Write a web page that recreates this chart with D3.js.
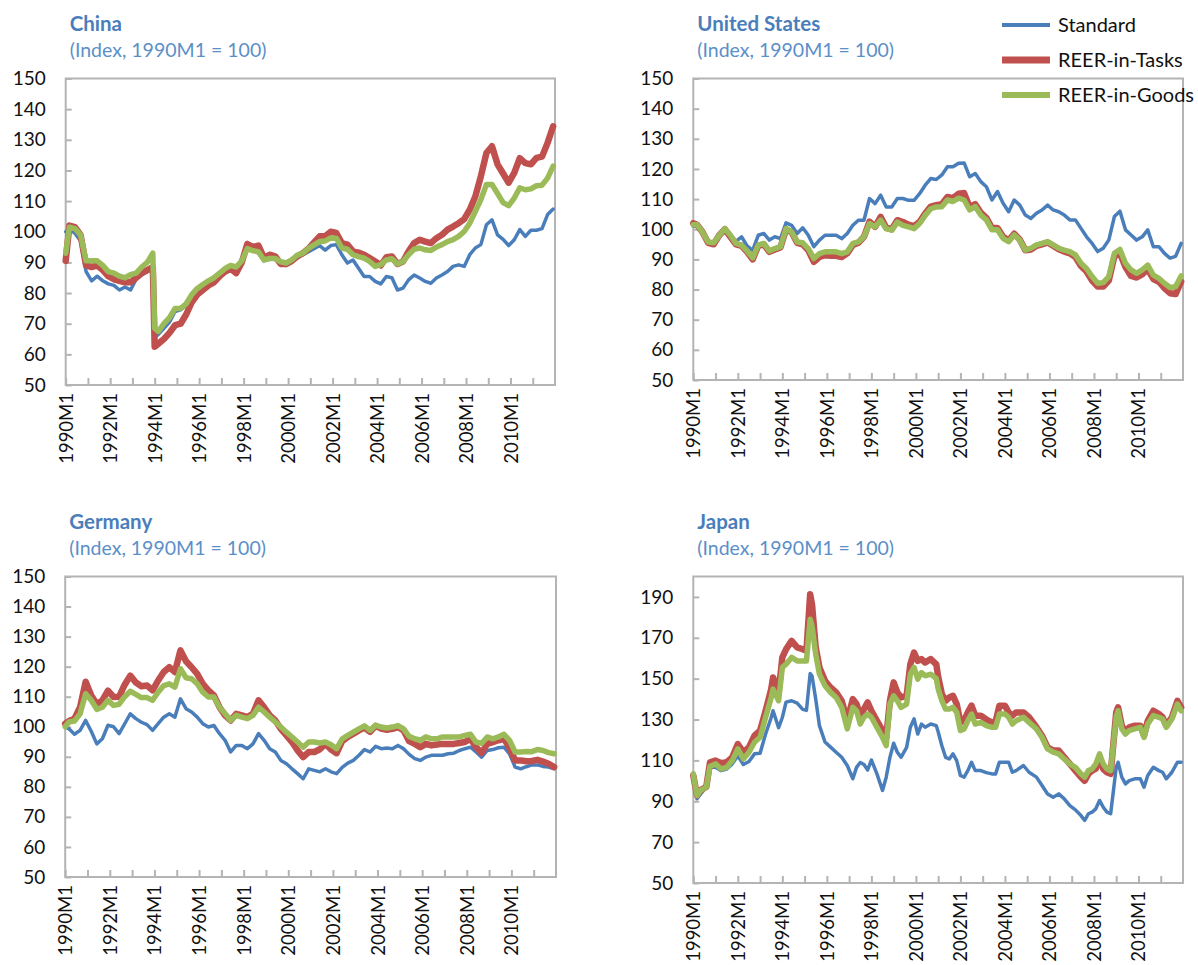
<!DOCTYPE html>
<html>
<head>
<meta charset="utf-8">
<script src="https://cdn.jsdelivr.net/npm/d3@7"></script>
<style>
  body { margin: 0; background: #fff; }
  svg text { font-family: Lato, "Open Sans", "Noto Sans", sans-serif; }
</style>
</head>
<body>
<svg id="chart" width="1198" height="965"></svg>
<script>
// ---- data ----
const tickYears = [1990, 1991, 1992, 1993, 1994, 1995, 1996, 1997, 1998, 1999, 2000,
  2001, 2002, 2003, 2004, 2005, 2006, 2007, 2008, 2009, 2010, 2011];
const indexTicks = [50, 60, 70, 80, 90, 100, 110, 120, 130, 140, 150];
const japanTicks = [50, 70, 90, 110, 130, 150, 170, 190];
const seriesNames = ["Standard", "REER-in-Tasks", "REER-in-Goods"];

const quarterDates = ["1990M1", "1990M3", "1990M6", "1990M9", "1990M12",
  "1991M3", "1991M6", "1991M9", "1991M12", "1992M3", "1992M6", "1992M9", "1992M12",
  "1993M3", "1993M6", "1993M9", "1993M12", "1994M3", "1994M6", "1994M9", "1994M12",
  "1995M3", "1995M6", "1995M9", "1995M12", "1996M3", "1996M6", "1996M9", "1996M12",
  "1997M3", "1997M6", "1997M9", "1997M12", "1998M3", "1998M6", "1998M9", "1998M12",
  "1999M3", "1999M6", "1999M9", "1999M12", "2000M3", "2000M6", "2000M9", "2000M12",
  "2001M3", "2001M6", "2001M9", "2001M12", "2002M3", "2002M6", "2002M9", "2002M12",
  "2003M3", "2003M6", "2003M9", "2003M12", "2004M3", "2004M6", "2004M9", "2004M12",
  "2005M3", "2005M6", "2005M9", "2005M12", "2006M3", "2006M6", "2006M9", "2006M12",
  "2007M3", "2007M6", "2007M9", "2007M12", "2008M3", "2008M6", "2008M9", "2008M12",
  "2009M3", "2009M6", "2009M9", "2009M12", "2010M3", "2010M6", "2010M9", "2010M12",
  "2011M3", "2011M6", "2011M9", "2011M12"];

const chinaDates = ["1990M1", "1990M3", "1990M6", "1990M9", "1990M12",
  "1991M3", "1991M6", "1991M9", "1991M12", "1992M3", "1992M6", "1992M9", "1992M12",
  "1993M3", "1993M6", "1993M9", "1993M12", "1994M1", "1994M3", "1994M6", "1994M9", "1994M12",
  "1995M3", "1995M6", "1995M9", "1995M12", "1996M3", "1996M6", "1996M9", "1996M12",
  "1997M3", "1997M6", "1997M9", "1997M12", "1998M3", "1998M6", "1998M9", "1998M12",
  "1999M3", "1999M6", "1999M9", "1999M12", "2000M3", "2000M6", "2000M9", "2000M12",
  "2001M3", "2001M6", "2001M9", "2001M12", "2002M3", "2002M6", "2002M9", "2002M12",
  "2003M3", "2003M6", "2003M9", "2003M12", "2004M3", "2004M6", "2004M9", "2004M12",
  "2005M3", "2005M6", "2005M9", "2005M12", "2006M3", "2006M6", "2006M9", "2006M12",
  "2007M3", "2007M6", "2007M9", "2007M12", "2008M3", "2008M6", "2008M9", "2008M12",
  "2009M3", "2009M6", "2009M9", "2009M12", "2010M3", "2010M6", "2010M9", "2010M12",
  "2011M3", "2011M6", "2011M9", "2011M12"];

const chinaStandard = [100, 101, 99.5, 97, 87,
  84, 85.5, 84, 83, 82.5, 81, 82, 81,
  84.5, 86, 87, 88, 65.5, 66.5, 68.5, 70.5, 74,
  74.5, 76, 79, 81, 82, 83.5, 84.5, 86,
  87.5, 89, 88, 90, 96.5, 94, 93, 90.5,
  91, 91, 89.5, 89, 90, 91.5, 92.5, 93.5,
  94.5, 95.5, 94, 95.5, 95.8, 92.5, 89.8, 90.8,
  88.1, 85.4, 85.4, 83.8, 83, 85.4, 85, 81,
  81.6, 84.3, 85.9, 84.9, 83.8, 83.2, 84.9, 85.9,
  87, 88.7, 89.2, 88.7, 92.5, 94.7, 95.8, 102.3,
  103.9, 99, 97.5, 95.5, 97.4, 100.7, 98.5, 100.5,
  100.5, 101, 105.6, 107.4];
const chinaTasks = [90.5, 102, 101.5, 99, 89,
  88.5, 89, 87.5, 85.5, 84.5, 84, 83.5, 83.5,
  85, 86.5, 87.5, 88.5, 62.5, 63.5, 65, 67, 69.5,
  70, 73, 77, 79.5, 81, 82.5, 83.5, 85.5,
  87, 88, 86.5, 90, 96, 95, 95.5, 91.5,
  92.5, 92, 89.5, 89.5, 90.5, 92, 93, 94.5,
  96.5, 98.5, 98.5, 100, 99.6, 96.3, 95.8, 93.6,
  93.2, 92.5, 91.4, 90.3, 89, 91.7, 91.9, 89.5,
  90.3, 93.6, 96.3, 97.4, 96.8, 96.3, 97.9, 99,
  100.7, 101.7, 102.8, 104.1, 107.2, 111.5, 118.1, 125.7,
  127.9, 122, 119, 116, 119.2, 124, 122.4, 122,
  124.1, 124.5, 129, 134.4];
const chinaGoods = [93, 101.5, 101, 99, 90.5,
  90.5, 90.5, 89, 87, 86.5, 85.5, 85, 86,
  86.5, 88.5, 90, 93, 68.5, 67.5, 70, 72, 75,
  75, 76.5, 79.5, 81.5, 82.8, 84, 85, 86.5,
  88, 89, 88.5, 90.5, 94.5, 93.8, 93.5, 90.8,
  91.3, 91.3, 90.2, 89.8, 90.8, 92.4, 93, 94.6,
  95.7, 96.8, 97, 98, 97.9, 94.7, 94.3, 92.5,
  91.9, 91.4, 90.3, 88.7, 89.3, 90.8, 91.2, 89.5,
  90.3, 92.5, 94.3, 94.7, 94.1, 93.9, 95, 95.8,
  96.8, 97.4, 98.5, 100.1, 102.8, 106.6, 110.5, 115.4,
  115.4, 112.5, 109.5, 108.5, 111, 114.3, 113.7, 114,
  115, 115.2, 117.5, 121.4];

const usStandard = [101, 101, 99, 96, 95.5,
  98, 100.2, 98, 96, 97.5, 94.5, 93, 98,
  98.6, 96.4, 97.5, 96.9, 102.1, 101.3, 98.6, 100.5,
  98, 94.2, 96.4, 98, 98, 98, 96.9, 98.6,
  101.3, 103, 103, 110.2, 108.5, 111.3, 107.4, 107.4,
  110.2, 110.2, 109.6, 109.6, 111.8, 114.6, 116.8, 116.5,
  118, 120.7, 120.7, 121.9, 122, 117.4, 118.5, 115.8,
  114.1, 109.7, 112.5, 108.6, 105.8, 109.7, 108, 104.7,
  103.6, 105.3, 106.4, 108, 106.4, 105.8, 104.7, 103.1,
  103.1, 100.3, 97.5, 95.3, 92.6, 93.7, 96.4, 104.2,
  106, 99.8, 98.1, 96.4, 97.5, 99.8, 94.2, 94.2,
  92, 90.4, 91, 95.3];
const usTasks = [102, 101.5, 99, 95.5, 95,
  98, 100, 97.5, 95, 94.5, 92.5, 90, 94.5,
  95, 92.5, 93.3, 94, 100, 99, 95.5, 95,
  93, 89.2, 90.8, 91.4, 91.2, 91.2, 90.8, 92,
  94.8, 95.5, 97.5, 102.5, 100.8, 104.1, 100.5, 100,
  103, 102.4, 101.5, 101, 102.5, 105.2, 107.5, 108,
  108.3, 110.7, 110.3, 111.8, 112, 107.3, 108.3, 105.5,
  103.8, 100.4, 100.4, 97.5, 96.3, 98.5, 96.6, 93,
  93.3, 94.5, 95, 95.6, 94.5, 93.4, 92.6, 92,
  90.8, 87.8, 86, 83, 81, 81, 83, 91,
  92, 87.5, 84.5, 84, 85, 86.8, 83.5, 82.6,
  80.5, 78.8, 78.5, 82.6];
const usGoods = [101.5, 101.5, 99, 95.8, 95.5,
  98, 100.2, 98, 95.3, 94.7, 92.8, 90.5, 94.7,
  95.3, 92.8, 93.6, 94.2, 100.2, 99.1, 95.8, 95.5,
  93.6, 90.3, 91.9, 92.5, 92.5, 92.5, 91.9, 92.5,
  95.3, 95.8, 97.5, 101.9, 100.8, 103, 100.2, 99.7,
  102.4, 101.3, 100.8, 100.2, 101.9, 104.6, 106.8, 107.4,
  107.5, 109.7, 109.2, 110.3, 109.7, 106.4, 107.5, 104.7,
  103.1, 99.8, 99.8, 97, 95.9, 98.1, 96.4, 93.1,
  93.7, 94.8, 95.3, 95.9, 94.8, 93.7, 93.1, 92.6,
  91.5, 88.7, 87, 84.3, 82.1, 82.3, 84.3, 92,
  93.3, 88.7, 86.5, 85.4, 86.5, 88.1, 84.8, 83.7,
  82.1, 80.7, 80.9, 84.5];

const germanyStandard = [100, 99.3, 97.5, 98.8, 102.1,
  98.5, 94.3, 96, 100.5, 100, 97.7, 101, 104.3,
  102.7, 101.5, 100.7, 98.8, 101, 103.2, 104.3, 103.2,
  109.3, 106, 104.9, 103.2, 101, 99.9, 100.4, 97.7,
  95.5, 91.6, 93.8, 93.8, 92.7, 94.3, 97.7, 95.5,
  92.7, 91.6, 88.8, 87.7, 86, 84.4, 82.7, 86,
  85.5, 85, 86, 85, 84.4, 86.5, 87.9, 88.8,
  90.5, 92.4, 91.6, 93.5, 92.7, 92.9, 92.7, 93.8,
  92.7, 90.8, 89.4, 88.8, 89.9, 90.5, 90.5, 90.5,
  91, 91.2, 92.1, 92.7, 93.2, 91.6, 89.9, 92.1,
  92.4, 93, 93.2, 91, 86.6, 86, 86.7, 87.3,
  87.3, 86.8, 86.6, 86];
const germanyTasks = [101, 101.9, 102.7, 106.5, 115,
  110.4, 107.5, 108.8, 112, 109.9, 110, 114, 117,
  114.7, 113.5, 113.7, 112.1, 115.4, 118.2, 119.8, 118.2,
  125.4, 121.8, 119.8, 117.6, 114.3, 112.1, 110.4, 106.5,
  103.8, 102.1, 104.3, 103.8, 103.2, 104.3, 108.8, 106.5,
  103.8, 102.1, 99.3, 97.1, 94.9, 92.1, 89.9, 91.6,
  91.6, 92.5, 94.3, 92.4, 91.2, 95.2, 96.6, 97.7,
  98.8, 99.7, 98.3, 100.3, 99.4, 99, 99.3, 99.9,
  98.8, 95.2, 94.3, 93.2, 94.3, 93.8, 94.1, 94.3,
  94.3, 94.3, 94.6, 94.9, 96, 93.2, 91.3, 94.3,
  94.9, 95.5, 96, 93, 88.8, 88.8, 88.5, 88.6,
  89, 88.4, 87.7, 86.6];
const germanyGoods = [100, 101.6, 101.9, 104.3, 111,
  108.8, 105.8, 106.5, 108.8, 107.1, 107.5, 110, 111.8,
  110.8, 109.7, 109.7, 108.8, 111.5, 113.7, 114.3, 113.2,
  119.3, 116.3, 116, 114.3, 111.5, 109.9, 109.9, 106.5,
  104.3, 102.1, 103.8, 103.2, 102.7, 103.8, 106.5, 104.9,
  103.2, 101.6, 99.9, 98.2, 96.6, 94.9, 93.2, 94.9,
  94.9, 94.6, 94.9, 94, 92.7, 96, 97.1, 98.2,
  99.3, 100.3, 98.8, 100.5, 99.9, 99.6, 99.9, 100.4,
  99.3, 96.8, 96, 95.5, 96.6, 96, 96, 96.6,
  96.6, 96.6, 96.6, 97.1, 97.5, 94.9, 94.5, 96.6,
  96, 96.6, 97.5, 95.5, 91.6, 91.6, 91.8, 91.7,
  92.4, 92.1, 91.4, 91];

const japanDates = ["1990M1", "1990M3", "1990M5", "1990M8", "1990M10",
  "1991M1", "1991M4", "1991M7", "1991M10", "1992M1", "1992M4", "1992M7", "1992M10",
  "1993M1", "1993M4", "1993M7", "1993M8", "1993M11",
  "1994M1", "1994M3", "1994M6", "1994M9", "1994M12",
  "1995M2", "1995M4", "1995M5", "1995M7", "1995M9", "1995M12",
  "1996M3", "1996M6", "1996M9", "1996M12",
  "1997M3", "1997M5", "1997M7", "1997M9", "1997M11",
  "1998M1", "1998M4", "1998M7", "1998M9", "1998M11",
  "1999M1", "1999M3", "1999M5", "1999M8", "1999M10", "1999M12",
  "2000M2", "2000M4", "2000M6", "2000M9", "2000M12",
  "2001M1", "2001M3", "2001M5", "2001M7", "2001M9", "2001M11",
  "2002M1", "2002M3", "2002M5", "2002M7", "2002M9", "2002M12",
  "2003M3", "2003M6", "2003M8", "2003M10",
  "2004M1", "2004M3", "2004M5", "2004M7", "2004M11",
  "2005M2", "2005M6", "2005M9", "2005M12",
  "2006M3", "2006M6", "2006M9", "2006M12",
  "2007M3", "2007M6", "2007M8", "2007M10", "2007M12",
  "2008M2", "2008M4", "2008M6", "2008M8", "2008M10",
  "2009M1", "2009M2", "2009M4", "2009M6", "2009M8", "2009M11",
  "2010M2", "2010M4", "2010M6", "2010M9", "2010M12",
  "2011M2", "2011M4", "2011M7", "2011M10", "2011M12"];
const japanStandard = [101, 91.2, 93.6, 96.9, 106.6,
  106.6, 105, 105.8, 108.3, 112.3, 108, 109.5, 113.2,
  113.5, 123, 131, 134.3, 126,
  131, 138.5, 139.2, 138, 135,
  134.5, 152.5, 151.4, 140, 127, 119,
  116.5, 114, 111.5, 107.5,
  101, 106.6, 109, 108, 105.3,
  110.2, 103.4, 95.3, 101.8, 111.5,
  118.4, 114, 111.5, 116.4, 126.2, 130.3,
  122.9, 127.8, 126.2, 127.8, 127,
  124, 117.2, 111.5, 110.7, 113.2, 109.9,
  102.6, 101.8, 105, 109.1, 105, 105,
  104, 103.4, 103.4, 109.1,
  109.1, 109.1, 104.2, 105, 107.5,
  104.2, 101.8, 97.7, 93.6,
  92, 93.6, 91.2, 87.9,
  85.8, 83, 80.6, 83.9, 84.7,
  86.3, 90.4, 87.1, 84.7, 83.9,
  106.6, 109.1, 101.8, 98.5, 100.1, 101,
  101, 96.9, 102.6, 106.6, 105,
  104.2, 101, 104.2, 109.1, 109.1];
const japanTasks = [102.6, 92.8, 95.5, 97, 109,
  109.9, 108.6, 109.1, 111.5, 118, 114, 116.4, 122.1,
  124.6, 134.3, 144.9, 150.6, 143.3,
  160.4, 164.4, 168.5, 165.3, 164.4,
  163.6, 191.3, 186.4, 165.3, 155.5, 149,
  145.7, 143.3, 139.2, 129.4,
  140, 137.6, 131.9, 135.1, 138.4,
  134.3, 129.4, 124.6, 121.3, 139.2,
  148.2, 143.3, 140.8, 141.6, 157.1, 162.8,
  158.7, 159.6, 157.9, 159.6, 157,
  151, 142.5, 139.2, 140.8, 141.6, 137.6,
  128.6, 129.4, 133.5, 136.8, 131.9, 131.9,
  130, 128.6, 129, 136.8,
  136.8, 133.5, 131.9, 133.5, 133.5,
  131.1, 126.2, 122.1, 116.4,
  114.8, 114.8, 111.5, 108.3,
  105, 101.8, 100, 103.4, 105,
  106, 111, 105.8, 104.2, 103.4,
  133.5, 136, 127, 123.7, 126.2, 127,
  127, 122.1, 129.4, 134.3, 132.7,
  131.1, 127, 131.1, 139.2, 136];
const japanGoods = [103.4, 92.8, 95.3, 96.9, 107,
  108.3, 105.8, 106.6, 109.9, 115.6, 110.7, 114, 118.9,
  121.3, 131.1, 140.8, 144.9, 139.2,
  155.5, 157.1, 160.4, 158.7, 158.7,
  158.7, 179.1, 175.8, 162, 152.2, 146.5,
  143.3, 140.8, 136, 125.4,
  136, 134.3, 127.8, 131.1, 132.7,
  131.1, 126.2, 121.3, 117.2, 137.6,
  141.6, 139.2, 136, 137.6, 152.2, 155.5,
  149.8, 153, 151.4, 152.2, 150,
  145, 139.2, 135.1, 135.1, 136, 133.5,
  124.6, 125.4, 129.4, 132.7, 127.8, 128.6,
  127, 126.2, 126.2, 132.7,
  132.7, 131.1, 127.8, 129.4, 131.1,
  128.6, 125.4, 121.3, 115.6,
  114, 113.2, 110.7, 108.3,
  106.6, 103.4, 101.8, 105, 105.8,
  108.3, 113.2, 108.3, 105.8, 105,
  131.1, 134.3, 125.4, 122.9, 124.6, 125.4,
  126.2, 121.3, 127.8, 131.9, 131.1,
  130.3, 126.2, 130.3, 137.6, 134.3];

// ---- layout ----
const colors = ["#4a7ebb", "#c0504d", "#9bbb59"];
const widths = [3.5, 6.5, 5.5];
const axisGray = "#b4b4b4";

const panels = [
  { name: "China", dates: chinaDates, series: [chinaStandard, chinaTasks, chinaGoods],
    ticks: indexTicks, domain: [50, 150], x0: 65.7, x1: 555, y0: 78.5, y1: 385 },
  { name: "United States", dates: quarterDates, series: [usStandard, usTasks, usGoods],
    ticks: indexTicks, domain: [50, 150], x0: 693.3, x1: 1183, y0: 78.5, y1: 380 },
  { name: "Germany", dates: quarterDates, series: [germanyStandard, germanyTasks, germanyGoods],
    ticks: indexTicks, domain: [50, 150], x0: 65.2, x1: 556, y0: 576.5, y1: 877 },
  { name: "Japan", dates: japanDates, series: [japanStandard, japanTasks, japanGoods],
    ticks: japanTicks, domain: [50, 200], x0: 693.3, x1: 1183, y0: 576.5, y1: 883 },
];

const monthIndex = s => {
  const [yr, m] = s.split("M");
  return (+yr - 1990) * 12 + (+m - 1);
};

const svg = d3.select("#chart");

panels.forEach(p => {
  const x = d3.scaleLinear().domain([0, 264]).range([p.x0, p.x1]);
  const y = d3.scaleLinear().domain(p.domain).range([p.y1, p.y0]);
  const g = svg.append("g");

  // title
  g.append("text")
    .attr("x", p.x0 + 4).attr("y", p.y0 - 48)
    .style("font-size", "20.5px").style("font-weight", "bold")
    .style("fill", "#4a7ebb")
    .text(p.name);
  g.append("text")
    .attr("x", p.x0 + 4).attr("y", p.y0 - 22)
    .style("font-size", "19.5px")
    .style("fill", "#5b8fc8")
    .text("(Index, 1990M1 = 100)");

  // plot frame
  g.append("rect")
    .attr("x", p.x0).attr("y", p.y0)
    .attr("width", p.x1 - p.x0).attr("height", p.y1 - p.y0)
    .attr("fill", "none").attr("stroke", axisGray).attr("stroke-width", 2);

  // y axis
  const yAxis = g.append("g")
    .attr("transform", `translate(${p.x0},0)`)
    .call(d3.axisLeft(y).tickValues(p.ticks).tickSizeInner(-6).tickSizeOuter(0).tickPadding(20));
  yAxis.select(".domain").remove();
  yAxis.selectAll("line").attr("stroke", axisGray).attr("stroke-width", 2);
  yAxis.selectAll("text").style("font-size", "19px").style("fill", "#111");

  // x axis
  const xAxis = g.append("g")
    .attr("transform", `translate(0,${p.y1})`)
    .call(d3.axisBottom(x)
      .tickValues(tickYears.map(yr => (yr - 1990) * 12))
      .tickSizeInner(-7).tickSizeOuter(0)
      .tickFormat(m => {
        const yr = 1990 + m / 12;
        return yr % 2 === 0 ? `${yr}M1` : "";
      }));
  xAxis.select(".domain").remove();
  xAxis.selectAll("line").attr("stroke", axisGray).attr("stroke-width", 2);
  xAxis.selectAll("text")
    .attr("transform", "rotate(-90)")
    .attr("x", -8).attr("y", 0).attr("dy", "0.35em")
    .style("text-anchor", "end")
    .style("font-size", "18.5px").style("fill", "#111");

  // lines
  const months = p.dates.map(monthIndex);
  const line = d3.line()
    .x((d, i) => x(months[i]))
    .y(d => y(d));
  p.series.forEach((values, k) => {
    g.append("path")
      .datum(values)
      .attr("d", line)
      .attr("fill", "none")
      .attr("stroke", colors[k])
      .attr("stroke-width", widths[k])
      .attr("stroke-linejoin", "round")
      .attr("stroke-linecap", "round");
  });
});

// legend
const legend = svg.append("g");
seriesNames.forEach((name, k) => {
  const ly = 25 + k * 35;
  legend.append("line")
    .attr("x1", 1002).attr("x2", 1050).attr("y1", ly).attr("y2", ly)
    .attr("stroke", colors[k]).attr("stroke-width", widths[k] + 0.5);
  legend.append("text")
    .attr("x", 1058).attr("y", ly + 7)
    .style("font-size", "20px").style("fill", "#111")
    .text(name);
});
</script>
</body>
</html>
